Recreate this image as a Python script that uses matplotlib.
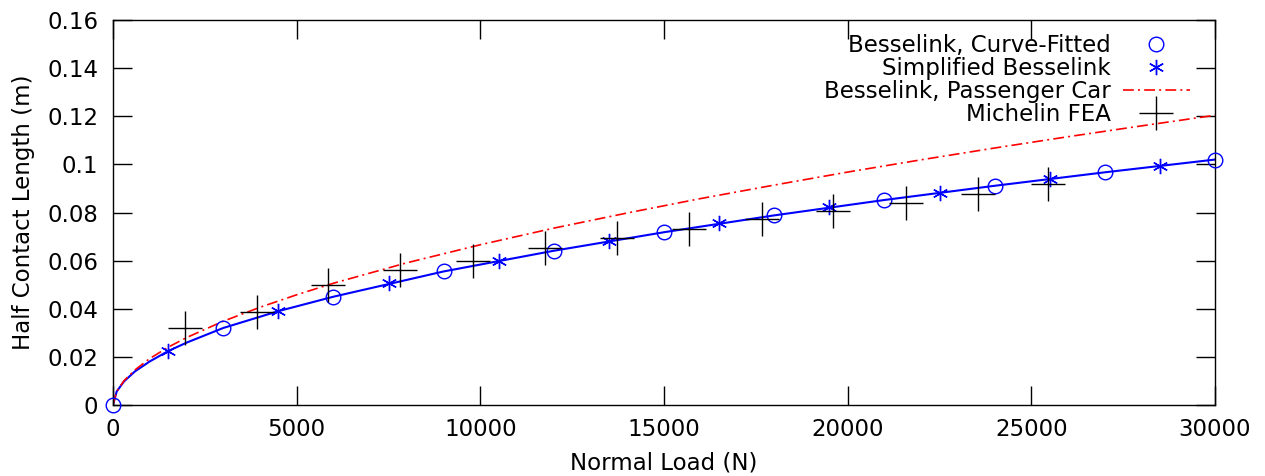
import matplotlib
matplotlib.use("Agg")
import matplotlib.pyplot as plt

plt.rcParams['font.family'] = ['DejaVu Sans']

# Besselink, curve-fitted (circles)
cf_load = [0, 3000, 6000, 9000, 12000, 15000, 18000, 21000, 24000, 27000, 30000]
cf_len = [0.0, 0.0321, 0.0450, 0.0556, 0.0641, 0.0718, 0.0788, 0.0853, 0.0911, 0.0967, 0.1020]

# Simplified Besselink (asterisks)
sb_load = [1500, 4500, 7500, 10500, 13500, 16500, 19500, 22500, 25500, 28500]
sb_len = [0.0226, 0.0391, 0.0507, 0.0600, 0.0682, 0.0756, 0.0823, 0.0883, 0.0941, 0.0995]

# Blue solid curve through the Besselink points
bl_load = [0, 100, 300, 600, 1000, 1500, 2000, 3000, 4500, 6000, 9000, 12000,
           15000, 18000, 21000, 24000, 27000, 30000]
bl_len = [0.0, 0.0056, 0.0098, 0.0140, 0.0181, 0.0224, 0.0259, 0.0320, 0.0390, 0.0450,
          0.0555, 0.0641, 0.0718, 0.0788, 0.0852, 0.0911, 0.0967, 0.1020]

# Besselink, passenger car (red dash-dot)
pc_load = [0, 100, 300, 600, 1000, 1500, 2000, 3000, 4000, 5000, 6000, 8000, 10000,
           12000, 14000, 16000, 18000, 20000, 22000, 24000, 26000, 28000, 30000]
pc_len = [0.0, 0.0056, 0.0101, 0.0146, 0.0193, 0.0240, 0.0280, 0.0348, 0.0406, 0.0458,
          0.0506, 0.0591, 0.0666, 0.0735, 0.0798, 0.0858, 0.0914, 0.0968, 0.1019,
          0.1068, 0.1115, 0.1160, 0.1204]

# Michelin FEA (crosses)
fea_load = [1950, 3920, 5850, 7810, 9790, 11760, 13710, 15680, 17660, 19610, 21580, 23540, 25460]
fea_len = [0.0321, 0.0388, 0.0500, 0.0562, 0.0599, 0.0653, 0.0694, 0.0732, 0.0771,
           0.0805, 0.0840, 0.0878, 0.0917]

x_ticks = [0, 5000, 10000, 15000, 20000, 25000, 30000]
y_ticks = [0, 0.02, 0.04, 0.06, 0.08, 0.10, 0.12, 0.14, 0.16]
y_tick_labels = ['0', '0.02', '0.04', '0.06', '0.08', '0.1', '0.12', '0.14', '0.16']

FS = 16.5

fig = plt.figure(figsize=(12.65, 4.76), dpi=100)
ax = fig.add_axes([113 / 1265, 1 - 405 / 476, (1215 - 113) / 1265, (405 - 20) / 476])

blue = '#0000ff'
ax.plot(bl_load, bl_len, color=blue, lw=1.5, zorder=2)
ax.plot(cf_load, cf_len, linestyle='none', marker='o', ms=10.5, mfc='none', mec=blue,
        mew=1.0, label='Besselink, Curve-Fitted', zorder=3, clip_on=False)
ax.plot(sb_load, sb_len, linestyle='none', marker=(6, 2, 0), ms=11, mec=blue, color=blue,
        mew=1.0, label='Simplified Besselink', zorder=3)
ax.plot(pc_load, pc_len, color='#ff0000', lw=1.2, dashes=(6.5, 2.5, 1.2, 2.5),
        label='Besselink, Passenger Car', zorder=2)
ax.plot(fea_load, fea_len, linestyle='none', marker='+', ms=24, mew=1.0, color='black',
        label='Michelin FEA', zorder=4)

ax.set_xlim(0, 30000)
ax.set_ylim(0, 0.16)
ax.set_xticks(x_ticks)
ax.set_xticklabels([str(t) for t in x_ticks])
ax.set_yticks(y_ticks)
ax.set_yticklabels(y_tick_labels)
ax.tick_params(direction='in', length=13.5, width=1, top=True, right=True,
               labelsize=FS)
ax.tick_params(axis='y', pad=10.5)
ax.tick_params(axis='x', pad=9)
for s in ax.spines.values():
    s.set_linewidth(1.0)

ax.set_xlabel('Normal Load (N)', fontsize=FS)
ax.set_ylabel('Half Contact Length (m)', fontsize=FS)
ax.xaxis.set_label_coords(0.5, -0.122)
ax.yaxis.set_label_coords(-0.071, 0.5)

leg = ax.legend(loc='upper right', bbox_to_anchor=(0.977, 0.964), frameon=False,
                markerfirst=False, fontsize=FS, handlelength=2.9, handletextpad=0.55,
                labelspacing=0.0, borderaxespad=0.0, borderpad=0.0)

fig.savefig('out.png', dpi=100)
